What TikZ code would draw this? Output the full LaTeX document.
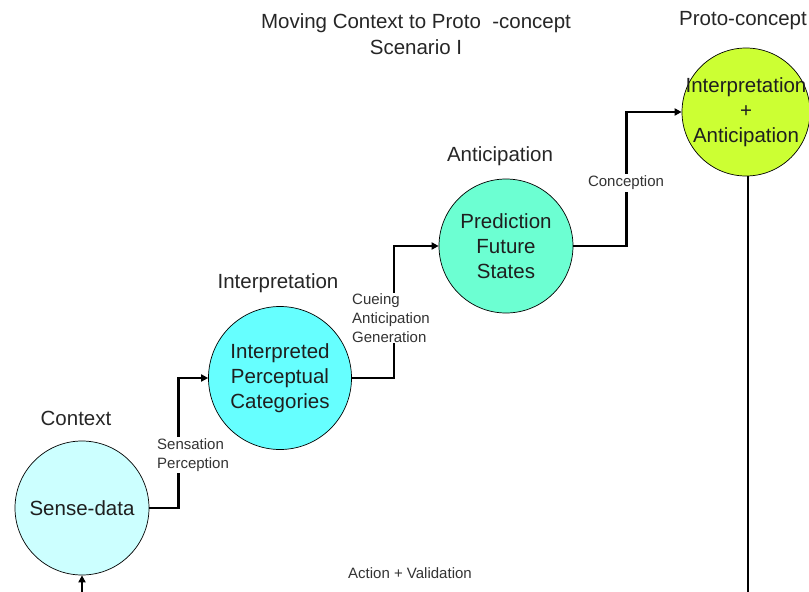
\documentclass[tikz,border=0pt]{standalone}
\usepackage{fontspec}
\setmainfont{Liberation Sans}
\usetikzlibrary{arrows.meta}
\definecolor{sensecol}{HTML}{CCFFFF}
\definecolor{interpcol}{HTML}{66FFFF}
\definecolor{predcol}{HTML}{6CFFD2}
\definecolor{protocol}{HTML}{CCFF33}
\definecolor{inkgray}{HTML}{333333}
\tikzset{
  stage/.style={circle, draw=black, line width=0.7pt, inner sep=0pt},
  stagetext/.style={inner sep=0pt, align=center, text=black!88,
    font=\fontsize{20.5}{25}\selectfont},
  heading/.style={text=black!85, font=\fontsize{20.5}{26}\selectfont, align=center},
  steplabel/.style={fill=white, inner sep=2pt, align=left, text=inkgray,
    font=\fontsize{15}{19}\selectfont},
  conn/.style={line width=2.3pt, -{Triangle[length=7pt,width=7pt]}},
  plain/.style={line width=1.4pt}
}
\begin{document}
\begin{tikzpicture}[x=1pt, y=-1pt]
\useasboundingbox (0,0) rectangle (809,592);

% headings
\node[heading] (title) at (416,34) {Moving Context to Proto\ \ -concept\\Scenario I};
\node[heading] (hctx) at (76,418) {Context};
\node[heading] (hint) at (278,283) {Interpretation};
\node[heading] (hant) at (500,156) {Anticipation};
\node[heading] (hpro) at (743,21) {Proto-concept};

% stages: circles, then their texts on top
\node[stage, fill=sensecol, minimum size=134pt] (sd) at (82,508) {};
\node[stage, fill=interpcol, minimum size=143pt] (ipc) at (280,378) {};
\node[stage, fill=predcol, minimum size=134pt] (pfs) at (506,246) {};
\node[stage, fill=protocol, minimum size=128pt] (ia) at (746,112) {};
\node[stagetext] (sdtext) at (sd.center) {Sense-data};
\node[stagetext] (ipctext) at (ipc.center) {Interpreted\\Perceptual\\Categories};
\node[stagetext] (pfstext) at (pfs.center) {Prediction\\Future\\States};
\node[stagetext] (iatext) at (ia.center) {Interpretation\\+\\Anticipation};

% step connectors
\draw[conn] (sd.east) -- ++(29,0) |- (ipc.west);
\draw[conn] (ipc.east) -- ++(42,0) |- (pfs.west);
\draw[conn] (pfs.east) -- ++(53,0) |- (ia.west);

% step labels
\node[steplabel, anchor=west] (lsp) at (155,455) {Sensation\\Perception};
\node[steplabel, anchor=west, inner sep=0pt] (lcag) at (352,318) {Cueing\\Anticipation\\Generation};
\node[steplabel] (lcon) at (626,183) {Conception};

% feedback loop leaving and entering the picture
\coordinate (loopout) at (748,600);
\coordinate (loopin) at (82,600);
\draw[plain] (ia.south) ++(2,0) -- (loopout);
\draw[conn] (loopin) -- (sd.south);
\node[steplabel, fill=none] (lav) at (410,573) {Action + Validation};
\end{tikzpicture}
\end{document}
